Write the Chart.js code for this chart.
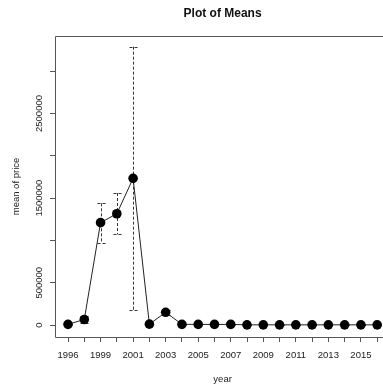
<!DOCTYPE html>
<html>
<head>
<meta charset="utf-8">
<script src="https://cdn.jsdelivr.net/npm/chart.js@4/dist/chart.umd.min.js"></script>
<style>
  html, body { margin: 0; padding: 0; overflow: hidden; background: #fff; }
  canvas { position: absolute; left: 0; top: 0; }
</style>
</head>
<body>
<canvas id="c" width="395" height="388" style="width:395px;height:388px"></canvas>
<script>
// ---- data ----
const categories = ['1996','1997','1999','2000','2001','2002','2003','2004','2005','2006',
                    '2007','2008','2009','2010','2011','2012','2013','2014','2015','2016'];
const means = [8000, 65000, 1210000, 1315000, 1734000, 10000, 150000, 8000, 7000, 7000,
               7000, 2000, 2000, 2000, 2000, 2000, 2000, 2000, 2000, 2000];
const upper = [16000, 106000, 1438000, 1560000, 3290000, 20000, 180000, 11000, 10000, 10000,
               10000, 5000, 5000, 5000, 5000, 5000, 5000, 5000, 5000, 5000];
const lower = [0, 20000, 973000, 1072000, 174000, 0, 120000, 5000, 4000, 4000,
               4000, 0, 0, 0, 0, 0, 0, 0, 0, 0];
const xTickLabels = ['1996','1999','2001','2003','2005','2007','2009','2011','2013','2015'];
const yTickValues = [0, 500000, 1000000, 1500000, 2000000, 2500000, 3000000];
const yTickLabels = ['0', '500000', '', '1500000', '', '2500000', ''];
const titleText = 'Plot of Means';
const xTitle = 'year';
const yTitle = 'mean of price';

const FONT = '"Liberation Sans", Arial, Helvetica, sans-serif';
const INK = '#222';
const FRAME = '#555';

const points = means.map((v, i) => ({ x: i + 1, y: v }));

const custom = {
  id: 'custom',
  beforeDatasetsDraw(chart) {
    const ctx = chart.ctx, xs = chart.scales.x, ys = chart.scales.y;
    ctx.save();
    ctx.strokeStyle = '#333';
    ctx.lineWidth = 1;
    ctx.setLineDash([3, 2]);
    for (let i = 0; i < means.length; i++) {
      const px = Math.round(xs.getPixelForValue(i + 1)) + 0.5;
      const pu = ys.getPixelForValue(upper[i]);
      const pl = ys.getPixelForValue(lower[i]);
      ctx.beginPath();
      ctx.moveTo(px, pu); ctx.lineTo(px, pl);
      ctx.moveTo(px - 4, Math.round(pu) + 0.5); ctx.lineTo(px + 4, Math.round(pu) + 0.5);
      ctx.moveTo(px - 4, Math.round(pl) + 0.5); ctx.lineTo(px + 4, Math.round(pl) + 0.5);
      ctx.stroke();
    }
    ctx.restore();
  },
  afterDraw(chart) {
    const ctx = chart.ctx, a = chart.chartArea, ys = chart.scales.y;
    ctx.save();
    // frame (right side lies beyond the visible window)
    ctx.strokeStyle = FRAME;
    ctx.lineWidth = 1;
    const L = Math.round(a.left) + 0.5, T = Math.round(a.top) + 0.5;
    const R = Math.round(a.right) + 0.5, B = Math.round(a.bottom) + 0.5;
    ctx.beginPath();
    ctx.moveTo(R, T); ctx.lineTo(L, T); ctx.lineTo(L, B); ctx.lineTo(R, B);
    ctx.stroke();
    // title
    ctx.fillStyle = '#111';
    ctx.font = 'bold 12px ' + FONT;
    ctx.textAlign = 'center';
    ctx.textBaseline = 'middle';
    ctx.fillText(titleText, (a.left + a.right) / 2, 13.5);
    // y tick labels (rotated)
    ctx.fillStyle = INK;
    ctx.font = '9.5px ' + FONT;
    yTickValues.forEach((v, i) => {
      if (!yTickLabels[i]) return;
      const py = ys.getPixelForValue(v);
      ctx.save();
      ctx.translate(39, py);
      ctx.rotate(-Math.PI / 2);
      ctx.textAlign = 'center';
      ctx.textBaseline = 'middle';
      ctx.fillText(yTickLabels[i], 0, 0);
      ctx.restore();
    });
    // axis titles
    ctx.save();
    ctx.translate(16.5, (a.top + a.bottom) / 2);
    ctx.rotate(-Math.PI / 2);
    ctx.textAlign = 'center';
    ctx.textBaseline = 'middle';
    ctx.fillText(yTitle, 0, 0);
    ctx.restore();
    ctx.textAlign = 'center';
    ctx.textBaseline = 'middle';
    ctx.fillText(xTitle, (a.left + a.right) / 2, 379);
    ctx.restore();
  }
};

new Chart(document.getElementById('c'), {
  type: 'line',
  data: {
    datasets: [{
      data: points,
      borderColor: '#222',
      borderWidth: 1,
      backgroundColor: '#000',
      pointBackgroundColor: '#000',
      pointBorderColor: '#000',
      pointBorderWidth: 0,
      pointRadius: 4.8,
      pointHoverRadius: 4.8,
      tension: 0,
      fill: false
    }]
  },
  options: {
    responsive: false,
    maintainAspectRatio: false,
    devicePixelRatio: 1,
    animation: false,
    events: [],
    layout: { padding: { left: 0, right: 4, top: 36, bottom: 0 } },
    plugins: { legend: { display: false }, tooltip: { enabled: false }, title: { display: false } },
    scales: {
      x: {
        type: 'linear',
        min: 0.2,
        max: 20.8,
        afterBuildTicks: (s) => { s.ticks = categories.map((c, i) => ({ value: i + 1 })); },
        afterFit: (s) => { s.height = 51; },
        grid: { drawOnChartArea: false, drawTicks: true, tickLength: 5, color: FRAME },
        border: { display: false },
        ticks: {
          autoSkip: false,
          maxRotation: 0,
          minRotation: 0,
          padding: 8,
          color: INK,
          font: { family: FONT, size: 9.5 },
          callback: (v) => {
            const lab = categories[Math.round(v) - 1];
            return xTickLabels.includes(lab) ? lab : '';
          }
        }
      },
      y: {
        type: 'linear',
        min: -141800,
        max: 3416000,
        afterBuildTicks: (s) => { s.ticks = yTickValues.map(v => ({ value: v })); },
        afterFit: (s) => { s.width = 55; },
        grid: { drawOnChartArea: false, drawTicks: true, tickLength: 5, color: FRAME },
        border: { display: false },
        ticks: { display: false }
      }
    }
  },
  plugins: [custom]
});
</script>
</body>
</html>
